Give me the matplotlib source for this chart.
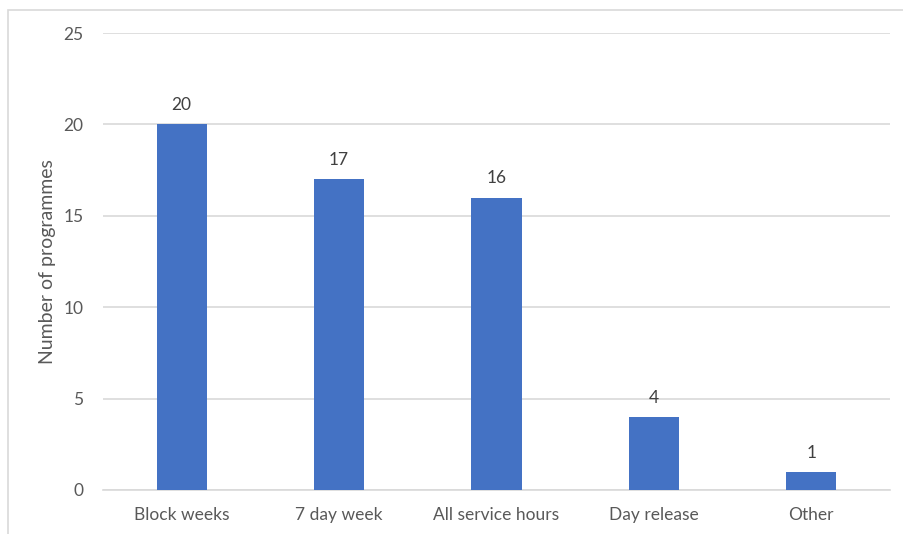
import matplotlib.pyplot as plt
from matplotlib.patches import Rectangle

# Programme structure counts
categories = ["Block weeks", "7 day week", "All service hours", "Day release", "Other"]
counts = [20, 17, 16, 4, 1]
yticks = [0, 5, 10, 15, 20, 25]

bar_color = "#4472C4"
text_color = "#595959"
grid_color = "#D9D9D9"

plt.rcParams['font.family'] = ['Lato', 'DejaVu Sans']

fig = plt.figure(figsize=(9.04, 5.34), dpi=100)
ax = fig.add_axes([103 / 904, 44 / 534, 787 / 904, 457 / 534])

# chart frame (left and top edges visible)
fig.patches.append(Rectangle((8 / 904, -0.1), 1.2, (534 - 10) / 534 + 0.1,
                             transform=fig.transFigure, fill=False,
                             edgecolor=grid_color, linewidth=1.2))

x = range(len(categories))
bars = ax.bar(x, counts, width=0.32, color=bar_color, zorder=3)

for rect, v in zip(bars, counts):
    ax.annotate(str(v), (rect.get_x() + rect.get_width() / 2, v),
                xytext=(0, 8), textcoords="offset points",
                ha="center", va="bottom", fontsize=12.5, color="#404040")

ax.set_xlim(-0.5, len(categories) - 0.5)
ax.set_ylim(0, 25)
ax.set_yticks(yticks)
ax.set_xticks(list(x))
ax.set_xticklabels(categories)
ax.yaxis.grid(True, color=grid_color, linewidth=1.2, zorder=0)
ax.tick_params(axis="both", length=0, labelsize=12.5, colors=text_color)
ax.tick_params(axis="x", pad=12.5)
ax.tick_params(axis="y", pad=14)
for side in ["top", "right", "left"]:
    ax.spines[side].set_visible(False)
ax.spines["bottom"].set_color(grid_color)
ax.spines["bottom"].set_linewidth(1.2)

ax.set_ylabel("Number of programmes", fontsize=14, color=text_color, labelpad=5)

fig.savefig("out.png", dpi=100)
